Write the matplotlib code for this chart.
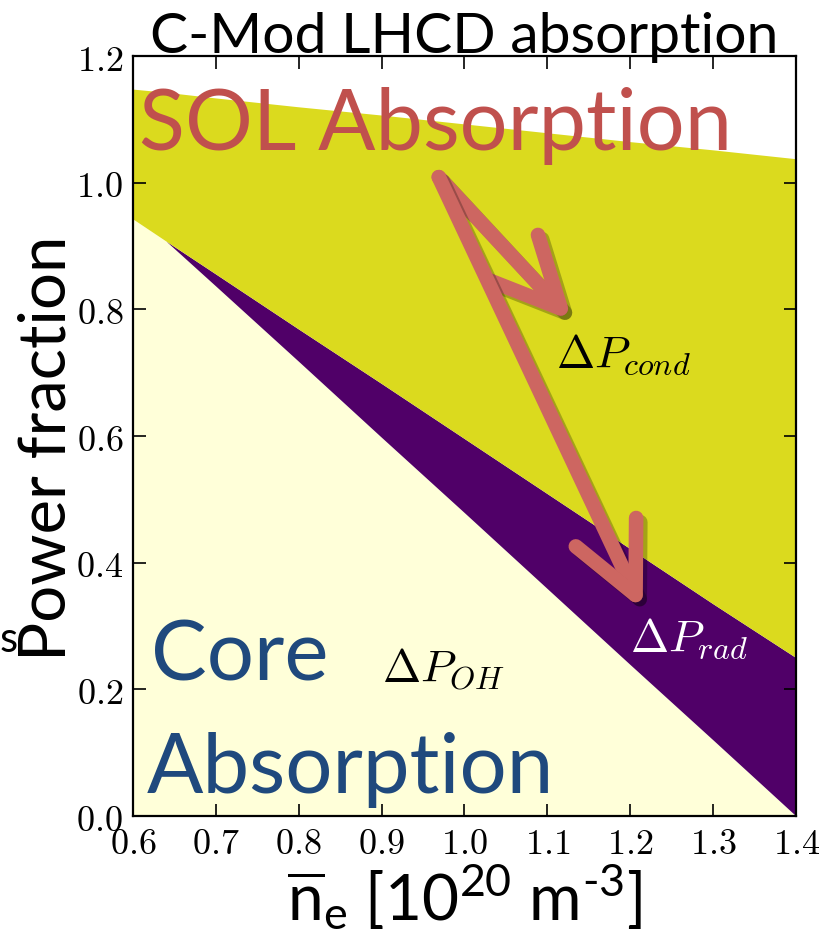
"""C-Mod LHCD 功率吸收分数示意图。"""

import matplotlib

matplotlib.use("Agg")
import matplotlib.pyplot as plt
import matplotlib.patheffects as pe
from matplotlib.ticker import FuncFormatter

plt.rcParams["font.family"] = ["Lato", "DejaVu Sans"]
plt.rcParams["mathtext.fontset"] = "cm"
plt.rcParams["mathtext.rm"] = "Lato"
plt.rcParams["mathtext.it"] = "Lato:italic"
plt.rcParams["mathtext.bf"] = "Lato:bold"

# 线平均密度 [10^20 m^-3]
density = [0.6, 0.64, 0.7, 0.8, 0.9, 1.0, 1.1, 1.2, 1.3, 1.4]
# 芯部吸收 (浅黄区域上沿)
core_frac = [0.943, 0.908, 0.837, 0.718, 0.598, 0.479, 0.359, 0.239, 0.120, 0.0]
# 芯部 + 辐射 (紫色区域上沿)
core_rad_frac = [0.943, 0.908, 0.856, 0.769, 0.683, 0.596, 0.509, 0.422, 0.335, 0.250]
# 总功率 (SOL 区域上沿)
total_frac = [1.148, 1.143, 1.134, 1.120, 1.107, 1.093, 1.079, 1.065, 1.052, 1.038]

x_ticks = [0.6, 0.7, 0.8, 0.9, 1.0, 1.1, 1.2, 1.3, 1.4]
y_ticks = [0.0, 0.2, 0.4, 0.6, 0.8, 1.0, 1.2]

COLOR_CORE = "#ffffd9"
COLOR_RAD = "#500068"
COLOR_SOL = "#dbda1e"
COLOR_ARROW = "#cd6661"
COLOR_RED = "#c0504d"
COLOR_BLUE = "#1f497d"


def draw_arrow(ax, start, end):
    ax.annotate(
        "",
        xy=end,
        xytext=start,
        arrowprops=dict(
            arrowstyle="->,head_length=1.0,head_width=0.48",
            mutation_scale=50,
            lw=10.5,
            color=COLOR_ARROW,
            capstyle="round",
            joinstyle="round",
            shrinkA=0,
            shrinkB=0,
            path_effects=[pe.SimpleLineShadow(offset=(3, -3), alpha=0.25), pe.Normal()],
        ),
    )


def main():
    fig = plt.figure(figsize=(8.25, 9.37), dpi=100)
    ax = fig.add_axes([0.161, 0.128, 0.804, 0.811])

    ax.fill_between(density, 0, core_frac, color=COLOR_CORE, lw=0)
    ax.fill_between(density, core_frac, core_rad_frac, color=COLOR_RAD, lw=0)
    ax.fill_between(density, core_rad_frac, total_frac, color=COLOR_SOL, lw=0)

    ax.set_xlim(0.6, 1.4)
    ax.set_ylim(0.0, 1.2)
    ax.set_xticks(x_ticks)
    ax.set_yticks(y_ticks)
    fmt = FuncFormatter(lambda v, p: f"${v:.1f}$")
    ax.xaxis.set_major_formatter(fmt)
    ax.yaxis.set_major_formatter(fmt)
    ax.tick_params(direction="in", length=9, width=1.2, top=True, right=True,
                   labelsize=26, pad=7)
    for s in ax.spines.values():
        s.set_linewidth(1.6)

    ax.set_title("C-Mod LHCD absorption", fontsize=41, pad=3)
    ax.set_ylabel("Power fraction", fontsize=47)
    ax.yaxis.set_label_coords(-0.085, 0.485)
    ax.set_xlabel("$\\overline{\\mathrm{n}}_\\mathrm{e}$ [10$^{\\mathrm{20}}$ m$^{\\mathrm{\u20103}}$]",
                  fontsize=46, labelpad=2, math_fontfamily="custom")

    ax.text(0.607, 1.053, "SOL Absorption", fontsize=61, color=COLOR_RED,
            ha="left", va="baseline")
    ax.text(0.622, 0.216, "Core", fontsize=60, color=COLOR_BLUE, ha="left", va="baseline")
    ax.text(0.617, 0.038, "Absorption", fontsize=60, color=COLOR_BLUE, ha="left", va="baseline")

    ax.text(0.900, 0.212, r"$\Delta P_{OH}$", fontsize=33, color="black", va="baseline")
    ax.text(1.110, 0.709, r"$\Delta P_{cond}$", fontsize=33, color="black", va="baseline")
    ax.text(1.200, 0.261, r"$\Delta P_{rad}$", fontsize=33, color="white", va="baseline")

    draw_arrow(ax, (0.969, 1.009), (1.13, 0.782))
    draw_arrow(ax, (0.969, 1.009), (1.215, 0.325))

    # 左侧被裁掉的标签残留
    fig.text(0.0, 0.304, "s", fontsize=30, ha="left", va="baseline")

    fig.savefig("out.png", dpi=100)
    plt.close(fig)


if __name__ == "__main__":
    main()
